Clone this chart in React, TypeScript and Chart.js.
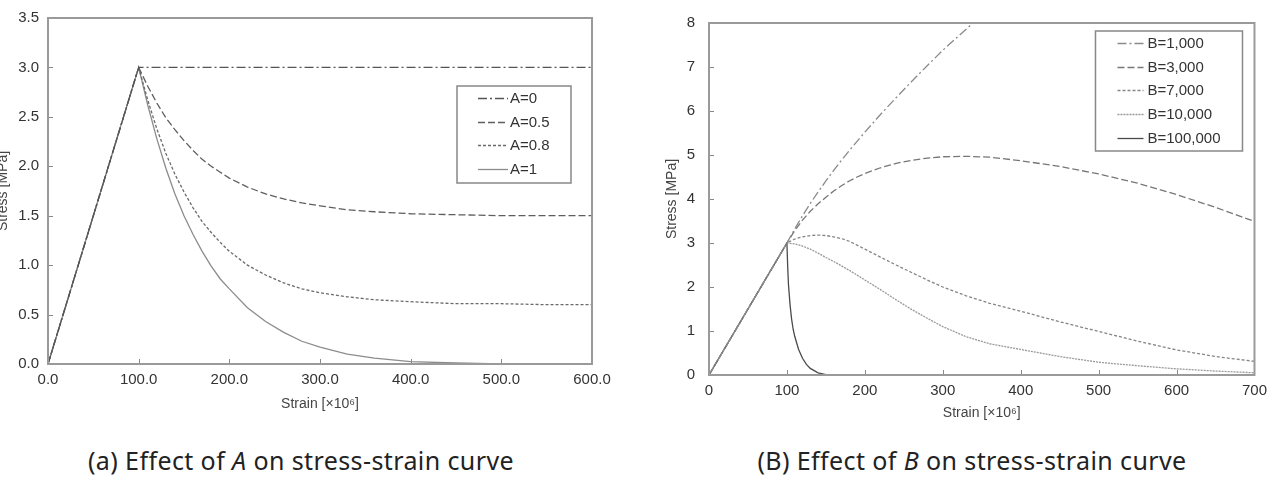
import React, { useEffect, useRef } from "react";
import { Chart, registerables } from "chart.js";

Chart.register(...registerables);

const FONT = "'Liberation Sans', Arial, Helvetica, sans-serif";

// ---------- (a) Effect of A ----------
const strainA = [0, 100, 110, 120, 130, 140, 150, 160, 170, 180, 190, 200, 220, 240, 260, 280, 300, 330, 360, 400, 450, 500, 550, 600];
const stressA0 = [0, 3.0, 3.0, 3.0, 3.0, 3.0, 3.0, 3.0, 3.0, 3.0, 3.0, 3.0, 3.0, 3.0, 3.0, 3.0, 3.0, 3.0, 3.0, 3.0, 3.0, 3.0, 3.0, 3.0];
const stressA05 = [0, 3.0, 2.81, 2.64, 2.49, 2.37, 2.26, 2.16, 2.07, 2.0, 1.94, 1.88, 1.79, 1.72, 1.67, 1.63, 1.6, 1.56, 1.54, 1.52, 1.51, 1.5, 1.5, 1.5];
const stressA08 = [0, 3.0, 2.67, 2.38, 2.13, 1.92, 1.74, 1.58, 1.44, 1.33, 1.23, 1.14, 1.0, 0.9, 0.82, 0.76, 0.72, 0.68, 0.65, 0.63, 0.61, 0.61, 0.6, 0.6];
const stressA1 = [0, 3.0, 2.62, 2.28, 1.98, 1.72, 1.5, 1.31, 1.14, 0.99, 0.86, 0.76, 0.57, 0.43, 0.32, 0.23, 0.17, 0.1, 0.06, 0.025, 0.01, 0.0, null, null];
const labelsA = ["A=0", "A=0.5", "A=0.8", "A=1"];
const xTicksA = [0, 100, 200, 300, 400, 500, 600];

// ---------- (B) Effect of B ----------
const strainB = [0, 100, 110, 120, 130, 140, 150, 160, 170, 180, 190, 200, 220, 240, 260, 280, 300, 330, 360, 400, 450, 500, 550, 600, 650, 700];
const stressB1000 = [0, 3.0, 3.32, 3.62, 3.9, 4.16, 4.41, 4.65, 4.88, 5.1, 5.31, 5.52, 5.92, 6.3, 6.67, 7.03, 7.38, 7.86, 8.34, null, null, null, null, null, null, null];
const stressB3000 = [0, 3.0, 3.28, 3.52, 3.72, 3.89, 4.04, 4.18, 4.3, 4.41, 4.5, 4.58, 4.71, 4.81, 4.88, 4.93, 4.96, 4.97, 4.95, 4.87, 4.74, 4.57, 4.36, 4.1, 3.81, 3.49];
const stressB7000 = [0, 3.0, 3.09, 3.14, 3.17, 3.18, 3.17, 3.14, 3.1, 3.04, 2.95, 2.86, 2.68, 2.5, 2.33, 2.16, 2.0, 1.8, 1.63, 1.45, 1.21, 0.99, 0.77, 0.57, 0.42, 0.31];
const stressB10000 = [0, 3.0, 2.98, 2.93, 2.86, 2.77, 2.67, 2.58, 2.48, 2.38, 2.27, 2.16, 1.94, 1.71, 1.49, 1.29, 1.1, 0.87, 0.71, 0.58, 0.42, 0.29, 0.21, 0.14, 0.09, 0.05];
const strainB100000 = [0, 100, 101, 102, 104, 106, 108, 110, 115, 120, 125, 130, 140, 150, 160];
const stressB100000 = [0, 3.0, 2.45, 2.05, 1.6, 1.27, 1.04, 0.88, 0.58, 0.38, 0.24, 0.15, 0.05, 0.01, 0.0];
const labelsB = ["B=1,000", "B=3,000", "B=7,000", "B=10,000", "B=100,000"];
const xTicksB = [0, 100, 200, 300, 400, 500, 600, 700];

const pts = (xs: number[], ys: (number | null)[]) => xs.map((x, i) => ({ x, y: ys[i] }));

const framePlugin = {
  id: "frame",
  afterDraw(chart: any, _args: any, o: any) {
    const { ctx, chartArea: ca, scales } = chart;
    ctx.save();
    ctx.strokeStyle = o.tickColor;
    ctx.lineWidth = 1;
    ctx.setLineDash([]);
    scales.x.ticks.forEach((t: any) => {
      const px = Math.round(scales.x.getPixelForValue(t.value)) + 0.5;
      ctx.beginPath();
      ctx.moveTo(px, ca.bottom);
      ctx.lineTo(px, ca.bottom - o.tickLen);
      ctx.stroke();
    });
    scales.y.ticks.forEach((t: any) => {
      const py = Math.round(scales.y.getPixelForValue(t.value)) + 0.5;
      ctx.beginPath();
      ctx.moveTo(ca.left, py);
      ctx.lineTo(ca.left + o.tickLen, py);
      ctx.stroke();
    });
    ctx.strokeStyle = o.color;
    ctx.lineWidth = o.width;
    ctx.strokeRect(ca.left, ca.top, ca.right - ca.left, ca.bottom - ca.top);
    const L = o.legend;
    const x0 = ca.right - L.right - L.width;
    const y0 = ca.top + L.top;
    ctx.fillStyle = "#fff";
    ctx.fillRect(x0, y0, L.width, L.height);
    ctx.strokeStyle = L.borderColor;
    ctx.lineWidth = L.borderWidth;
    ctx.strokeRect(x0, y0, L.width, L.height);
    chart.data.datasets.forEach((ds: any, i: number) => {
      const cy = Math.round(y0 + L.firstRow + i * L.rowHeight) + 0.5;
      ctx.setLineDash(ds.borderDash || []);
      ctx.strokeStyle = ds.borderColor;
      ctx.lineWidth = ds.borderWidth;
      ctx.beginPath();
      ctx.moveTo(x0 + L.lineStart, cy);
      ctx.lineTo(x0 + L.lineEnd, cy);
      ctx.stroke();
      ctx.setLineDash([]);
      ctx.fillStyle = L.textColor;
      ctx.font = `${L.fontSize}px ${FONT}`;
      ctx.textBaseline = "middle";
      ctx.textAlign = "left";
      ctx.fillText(ds.label, x0 + L.textStart, cy);
    });
    ctx.restore();
  },
};

const lineDs = (label: string, data: any[], color: string, dash: number[], width = 1.3) => ({
  label,
  data,
  borderColor: color,
  backgroundColor: color,
  borderDash: dash,
  borderWidth: width,
  pointRadius: 0,
  tension: 0,
  fill: false,
  spanGaps: false,
});

function makeScales(o: any) {
  return {
    x: {
      type: "linear",
      min: o.xMin,
      max: o.xMax,
      afterFit: (s: any) => { s.height = o.xHeight; },
      afterBuildTicks: (s: any) => { s.ticks = o.xTicks.map((v: number) => ({ value: v })); },
      ticks: {
        callback: o.xFmt,
        padding: 7,
        color: "#333",
        font: { size: 15, family: FONT },
        maxRotation: 0,
        autoSkip: false,
      },
      grid: { display: false, drawTicks: false },
      border: { display: false },
      title: {
        display: true,
        text: "Strain [×10⁶]",
        color: "#444",
        font: { size: 14, family: FONT },
        padding: { top: 0, bottom: o.xTitlePad },
      },
    },
    y: {
      type: "linear",
      min: o.yMin,
      max: o.yMax,
      afterFit: (s: any) => { s.width = o.yWidth; },
      ticks: {
        stepSize: o.yStep,
        callback: o.yFmt,
        padding: o.yTickPad,
        color: "#333",
        font: { size: 15, family: FONT },
      },
      grid: { display: false, drawTicks: false },
      border: { display: false },
      title: {
        display: true,
        text: "Stress [MPa]",
        color: "#444",
        font: { size: 14, family: FONT },
        padding: { top: o.yTitlePad, bottom: 0 },
      },
    },
  };
}

function ChartA() {
  const ref = useRef<HTMLCanvasElement>(null);
  useEffect(() => {
    const chart = new Chart(ref.current as HTMLCanvasElement, {
      type: "line",
      data: {
        datasets: [
          lineDs(labelsA[0], pts(strainA, stressA0), "#555", [9, 3, 2, 3]),
          lineDs(labelsA[1], pts(strainA, stressA05), "#5e5e5e", [7, 3]),
          lineDs(labelsA[2], pts(strainA, stressA08), "#6a6a6a", [3, 2]),
          lineDs(labelsA[3], pts(strainA, stressA1), "#8c8c8c", []),
        ],
      },
      options: {
        responsive: false,
        animation: false,
        layout: { padding: { top: 15, right: 28, left: 0, bottom: 0 } },
        scales: makeScales({
          xMin: 0, xMax: 600, xTicks: xTicksA, xFmt: (v: any) => Number(v).toFixed(1),
          xHeight: 56, xTitlePad: 7,
          yMin: 0, yMax: 3.5, yStep: 0.5, yFmt: (v: any) => Number(v).toFixed(1),
          yWidth: 54, yTickPad: 9, yTitlePad: 1,
        }) as any,
        plugins: {
          legend: { display: false },
          tooltip: { enabled: false },
          frame: {
            color: "#9a9a9a", width: 2, tickColor: "#888", tickLen: 5,
            legend: {
              right: 21, top: 68, width: 114, height: 97,
              firstRow: 12, rowHeight: 23.7, lineStart: 21, lineEnd: 51, textStart: 53,
              borderColor: "#888", borderWidth: 1.5, textColor: "#333", fontSize: 15,
            },
          },
        } as any,
      },
      plugins: [framePlugin],
    });
    return () => chart.destroy();
  }, []);
  return <canvas ref={ref} width={626} height={420} style={{ position: "absolute", left: -6, top: 0 }} />;
}

function ChartB() {
  const ref = useRef<HTMLCanvasElement>(null);
  useEffect(() => {
    const chart = new Chart(ref.current as HTMLCanvasElement, {
      type: "line",
      data: {
        datasets: [
          lineDs(labelsB[0], pts(strainB, stressB1000), "#8a8a8a", [9, 3, 2, 3]),
          lineDs(labelsB[1], pts(strainB, stressB3000), "#777", [7, 3]),
          lineDs(labelsB[2], pts(strainB, stressB7000), "#858585", [3, 2]),
          lineDs(labelsB[3], pts(strainB, stressB10000), "#999", [2, 1]),
          lineDs(labelsB[4], pts(strainB100000, stressB100000), "#4a4a4a", []),
        ],
      },
      options: {
        responsive: false,
        animation: false,
        layout: { padding: { top: 13, right: 15, left: 0, bottom: 0 } },
        scales: makeScales({
          xMin: 0, xMax: 700, xTicks: xTicksB, xFmt: (v: any) => String(v),
          xHeight: 55, xTitlePad: 8,
          yMin: 0, yMax: 8, yStep: 1, yFmt: (v: any) => String(v),
          yWidth: 69, yTickPad: 14, yTitlePad: 24,
        }) as any,
        plugins: {
          legend: { display: false },
          tooltip: { enabled: false },
          frame: {
            color: "#9a9a9a", width: 2, tickColor: "#888", tickLen: 5,
            legend: {
              right: 12, top: 8, width: 147, height: 120,
              firstRow: 12, rowHeight: 23.7, lineStart: 22, lineEnd: 48, textStart: 52,
              borderColor: "#888", borderWidth: 1.5, textColor: "#333", fontSize: 15,
            },
          },
        } as any,
      },
      plugins: [framePlugin],
    });
    return () => chart.destroy();
  }, []);
  return <canvas ref={ref} width={634} height={430} style={{ position: "absolute", left: 640, top: 0 }} />;
}

const captionStyle: React.CSSProperties = {
  position: "absolute",
  top: 444,
  height: 32,
  lineHeight: "32px",
  textAlign: "center",
  fontFamily: "'Noto Sans', 'Open Sans', sans-serif",
  fontSize: 25,
  letterSpacing: "0.4px",
  color: "#222",
  whiteSpace: "nowrap",
};

export default function App() {
  return (
    <div style={{ position: "absolute", left: 0, top: 0, width: 1274, height: 480, overflow: "hidden", background: "#fff" }}>
      <ChartA />
      <ChartB />
      <div style={{ ...captionStyle, left: 0, width: 602 }}>
        (a) Effect of <i>A</i> on stress-strain curve
      </div>
      <div style={{ ...captionStyle, left: 640, width: 664 }}>
        (B) Effect of <i>B</i> on stress-strain curve
      </div>
    </div>
  );
}
